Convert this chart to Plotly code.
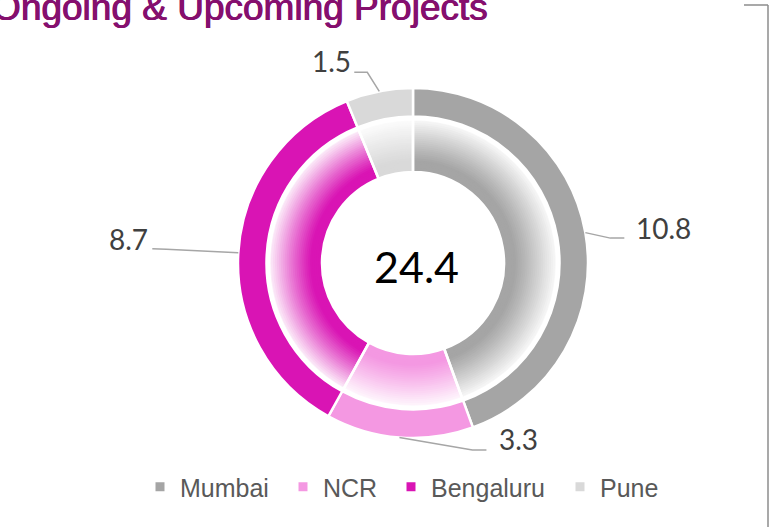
import math
import plotly.graph_objects as go

# ---------------- data ----------------
cities = ["Mumbai", "NCR", "Bengaluru", "Pune"]
projects = [10.8, 3.3, 8.7, 1.5]
value_labels = ["10.8", "3.3", "8.7", "1.5"]
total_label = "24.4"
title_text = "Ongoing & Upcoming Projects"

# ---------------- style ----------------
colors = ["#A5A5A5", "#F498E2", "#D914B4", "#D9D9D9"]
TITLE_COLOR = "#850F6E"
W, H = 777, 527
OX, OY = 0, 0              # page offset of the figure (body margin removed below)
CX, CY = 413, 263          # donut centre in page px
R_OUT = 175                # outer ring outer radius
R_OUT_IN = 146.5           # outer ring inner radius
R_IN = 144                 # inner ring outer radius
R_HOLE = 91                # hole radius
N_LAYERS = 27
LABEL_FONT = "Lato, 'Open Sans', sans-serif"
TEXT_FONT = "'Liberation Sans', Arial, sans-serif"

# label leader-line offsets relative to the ring anchor (px): elbow, end, text centre
label_offsets = [
    dict(elbow=(25, 5.5), end=(39, 5.5), text=(78, -4.5)),
    dict(elbow=(73, 12.5), end=(87, 12.5), text=(119.5, 1.5)),
    dict(elbow=(-72, -3.5), end=(-86, -4), text=(-110, -14)),
    dict(elbow=(-12, -19), end=(-25, -19), text=(-48, -30)),
]
# legend entry left edges (page px)
legend_lefts = [140, 283, 391, 560]
LEGEND_Y = 487


def dom(r):
    cx, cy = CX - OX, CY - OY
    return dict(x=[(cx - r) / W, (cx + r) / W], y=[(H - cy - r) / H, (H - cy + r) / H])


def px(x, y):
    return (x - OX) / W, 1 - (y - OY) / H


def hex_rgb(h):
    h = h.lstrip("#")
    return tuple(int(h[i:i + 2], 16) for i in (0, 2, 4))


def mix_white(h, w):
    r, g, b = hex_rgb(h)
    return "rgb(%d,%d,%d)" % (round(r + (255 - r) * w), round(g + (255 - g) * w), round(b + (255 - b) * w))


common = dict(labels=cities, values=projects, sort=False, direction="clockwise",
              rotation=0, textinfo="none", hoverinfo="skip", showlegend=False)

fig = go.Figure()

# outer solid ring
fig.add_trace(go.Pie(
    **common, domain=dom(R_OUT), hole=R_OUT_IN / R_OUT,
    marker=dict(colors=colors, line=dict(color="white", width=2.5)),
))

# inner gradient ring, drawn as stacked discs (largest first)
step = (R_IN - R_HOLE) / N_LAYERS
for k in range(N_LAYERS):
    r = R_IN - k * step
    t = (r - step / 2 - R_HOLE) / (R_IN - R_HOLE)
    w = max(0.0, min(1.0, (t - 0.2) / 0.8)) ** 1.1 * 0.95
    fig.add_trace(go.Pie(
        **common, domain=dom(r), hole=R_HOLE / r,
        marker=dict(colors=[mix_white(c, w) for c in colors], line=dict(width=0)),
    ))

# separators on inner ring
fig.add_trace(go.Pie(
    **common, domain=dom(R_IN), hole=R_HOLE / R_IN,
    marker=dict(colors=["rgba(0,0,0,0)"] * len(cities), line=dict(color="white", width=2.5)),
))

# legend entries (one legend per city so spacing can match)
legend_layouts = {}
for i, (name, c) in enumerate(zip(cities, colors)):
    lname = "legend" if i == 0 else "legend%d" % (i + 1)
    fig.add_trace(go.Scatter(x=[None], y=[None], mode="markers", name=name,
                             marker=dict(symbol="square", size=9, color=c),
                             legend=lname, showlegend=True, hoverinfo="skip"))
    lx, ly = px(legend_lefts[i], LEGEND_Y)
    legend_layouts[lname] = dict(x=lx, xanchor="left", y=ly, yanchor="middle",
                                 font=dict(family=TEXT_FONT, size=25, color="#595959"),
                                 bgcolor="rgba(0,0,0,0)", borderwidth=0)

# leader lines + value labels, anchored at slice mid-angles
total = sum(projects)
shapes = []
annotations = []
cum = 0.0
for i, v in enumerate(projects):
    mid = (cum + v / 2) / total * 2 * math.pi
    cum += v
    ax = CX + R_OUT * math.sin(mid)
    ay = CY - R_OUT * math.cos(mid)
    o = label_offsets[i]
    pts = [(ax, ay), (ax + o["elbow"][0], ay + o["elbow"][1]), (ax + o["end"][0], ay + o["end"][1])]
    path = "M " + " L ".join("%f,%f" % px(*p) for p in pts)
    shapes.append(dict(type="path", xref="paper", yref="paper", path=path,
                       line=dict(color="#A6A6A6", width=1.5)))
    tx, ty = px(ax + o["text"][0], ay + o["text"][1])
    annotations.append(dict(x=tx, y=ty, xref="paper", yref="paper", text=value_labels[i],
                            showarrow=False, xanchor="center", yanchor="middle",
                            font=dict(family=LABEL_FONT, size=28, color="#404040")))

# centre total
cx, cy = px(CX + 3, CY + 3)
annotations.append(dict(x=cx, y=cy, xref="paper", yref="paper", text=total_label, showarrow=False,
                        xanchor="center", yanchor="middle",
                        font=dict(family=LABEL_FONT, size=43, color="#000000")))

# title (cut at the top-left as in the reference)
tx, ty = px(490, 8)
annotations.append(dict(x=tx, y=ty, xref="paper", yref="paper", text=title_text, showarrow=False,
                        xanchor="right", yanchor="middle",
                        font=dict(family=TEXT_FONT, size=37, color=TITLE_COLOR,
                                  shadow="0.6px 0px 0px %s, -0.4px 0px 0px %s" % (TITLE_COLOR, TITLE_COLOR))))

# chart frame fragment at the right
fx0, fy0 = px(744, 5)
fx1, _ = px(768, 5)
shapes.append(dict(type="line", xref="paper", yref="paper", x0=fx0, y0=fy0, x1=fx1, y1=fy0,
                   line=dict(color="#8C8C8C", width=1.5)))
shapes.append(dict(type="line", xref="paper", yref="paper", x0=fx1, y0=fy0, x1=fx1, y1=0,
                   line=dict(color="#8C8C8C", width=1.5)))

fig.update_layout(
    width=W, height=H, autosize=False,
    margin=dict(l=0, r=0, t=0, b=0),
    paper_bgcolor="white", plot_bgcolor="white",
    xaxis=dict(visible=False), yaxis=dict(visible=False),
    shapes=shapes, annotations=annotations,
    **legend_layouts,
)

fig.write_html("out.html", config={"displayModeBar": False, "displaylogo": False},
               post_script="document.body.style.margin='0';")
